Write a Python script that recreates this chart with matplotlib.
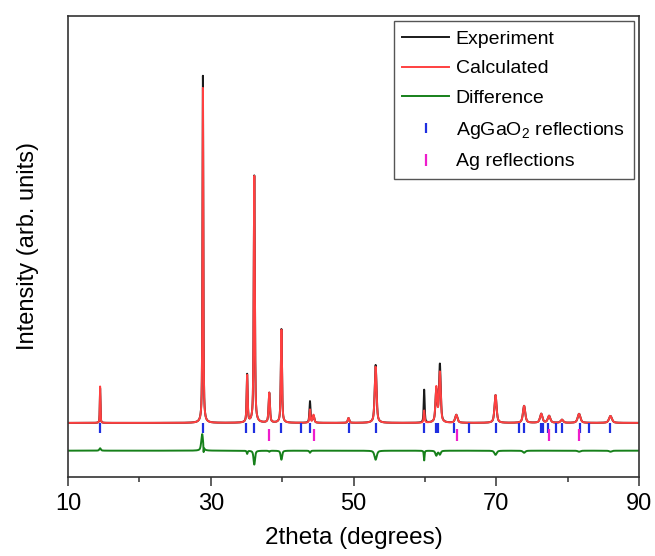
"""
Rietveld refinement plot: AgGaO2 with Ag impurity
Observed / calculated profile, difference curve and reflection markers
"""
import numpy as np
import matplotlib
matplotlib.use('Agg')
import matplotlib.pyplot as plt

plt.rcParams['font.family'] = ['Liberation Sans', 'DejaVu Sans']
plt.rcParams['mathtext.fontset'] = 'custom'
plt.rcParams['mathtext.rm'] = 'Liberation Sans'
plt.rcParams['mathtext.it'] = 'Liberation Sans:italic'

peak_pos = [14.5, 28.9, 35.1, 36.1, 38.2, 39.9, 43.9, 44.4, 49.3, 53.1,
            59.9, 61.6, 62.1, 64.4, 69.9, 73.9, 76.3, 77.4, 79.2, 81.6, 86.0]
obs_height = [100, 1000, 138, 712, 86, 270, 62, 20, 14, 167,
              95, 92, 167, 23, 80, 49, 26, 20, 9, 26, 20]
calc_height = [105, 965, 135, 711, 86, 268, 38, 23, 14, 162,
               35, 100, 144, 23, 80, 49, 26, 20, 9, 26, 20]
peak_fwhm = [0.10, 0.14, 0.17, 0.18, 0.22, 0.19, 0.18, 0.25, 0.24, 0.30,
             0.16, 0.28, 0.28, 0.38, 0.34, 0.38, 0.40, 0.42, 0.42, 0.45, 0.48]

# Difference curve features: position, amplitude, FWHM
diff_pos = [14.5, 28.8, 29.0, 35.1, 36.1, 38.2, 39.9, 43.9, 53.1, 59.9,
            61.6, 62.1, 69.9, 73.9, 81.6, 86.0]
diff_amp = [7, 48, -20, -9, -40, -3, -26, -6, -26, -28,
            -14, -11, -12, -6, -3, -3]
diff_fwhm = [0.25, 0.30, 0.06, 0.15, 0.25, 0.2, 0.25, 0.2, 0.38, 0.12,
             0.3, 0.3, 0.38, 0.38, 0.4, 0.4]

# Reflection positions
agga_refl = [14.5, 28.9, 35.0, 36.1, 39.9, 42.6, 43.9, 49.3, 53.1, 59.9, 61.5,
             61.9, 64.1, 66.2, 69.9, 73.2, 73.9, 76.2, 76.5, 77.2, 78.3,
             79.2, 81.7, 83.0, 86.0]
ag_refl = [38.2, 44.4, 64.5, 77.4, 81.6]

DIFF_OFFSET = -80
AGGA_LEVEL = -16
AG_LEVEL = -36


def pseudo_voigt(x, pos, height, fwhm, eta=0.6):
    """Sum of pseudo-Voigt peaks"""
    y = np.zeros_like(x)
    for p, h, w in zip(pos, height, fwhm):
        hw = w / 2
        lor = 1 / (1 + ((x - p) / hw) ** 2)
        gau = np.exp(-np.log(2) * ((x - p) / hw) ** 2)
        y += h * (eta * lor + (1 - eta) * gau)
    return y


two_theta = np.arange(10, 90.001, 0.01)
y_obs = pseudo_voigt(two_theta, peak_pos, obs_height, peak_fwhm)
y_calc = pseudo_voigt(two_theta, peak_pos, calc_height, peak_fwhm)
y_diff = pseudo_voigt(two_theta, diff_pos, diff_amp, diff_fwhm) + DIFF_OFFSET

fig = plt.figure(figsize=(6.55, 5.56), dpi=100)
ax = fig.add_axes([0.1038, 0.1426, 0.8718, 0.8291])

ax.plot(two_theta, y_obs, color='#1a1a1a', linewidth=1.4, label='Experiment')
ax.plot(two_theta, y_calc, color='#ff4040', linewidth=1.4, label='Calculated')
ax.plot(two_theta, y_diff, color='#16801a', linewidth=1.4, label='Difference')
ax.plot(agga_refl, [AGGA_LEVEL] * len(agga_refl), linestyle='none', marker='|',
        markersize=7, markeredgewidth=1.6, color='#1f2fe0',
        label='AgGaO$_2$ reflections')
ax.plot(ag_refl, [AG_LEVEL] * len(ag_refl), linestyle='none', marker='|',
        markersize=8, markeredgewidth=1.6, color='#ee1ccc',
        label='Ag reflections')

ax.set_xlim(10, 90)
ax.set_ylim(-155, 1173)
ax.set_xticks([10, 30, 50, 70, 90])
ax.set_xticks([20, 40, 60, 80], minor=True)
ax.tick_params(axis='x', which='major', direction='out', length=6.5, width=1.1,
               labelsize=17, pad=5, color='#333333')
ax.tick_params(axis='x', which='minor', direction='out', length=3.5, width=1.1,
               color='#333333')
ax.set_yticks([])
for side in ax.spines.values():
    side.set_linewidth(1.2)
    side.set_color('#333333')

ax.set_xlabel('2theta (degrees)', fontsize=17.5, labelpad=9)
ax.set_ylabel('Intensity (arb. units)', fontsize=17, labelpad=21)

leg = ax.legend(loc='upper right', fontsize=14, frameon=True, fancybox=False,
                edgecolor='#555555', framealpha=1, borderaxespad=0.28,
                labelspacing=0.63, handlelength=2.4, handletextpad=0.35,
                borderpad=0.45)
leg.get_frame().set_linewidth(1.0)

plt.savefig('out.png', dpi=100)
plt.close()
